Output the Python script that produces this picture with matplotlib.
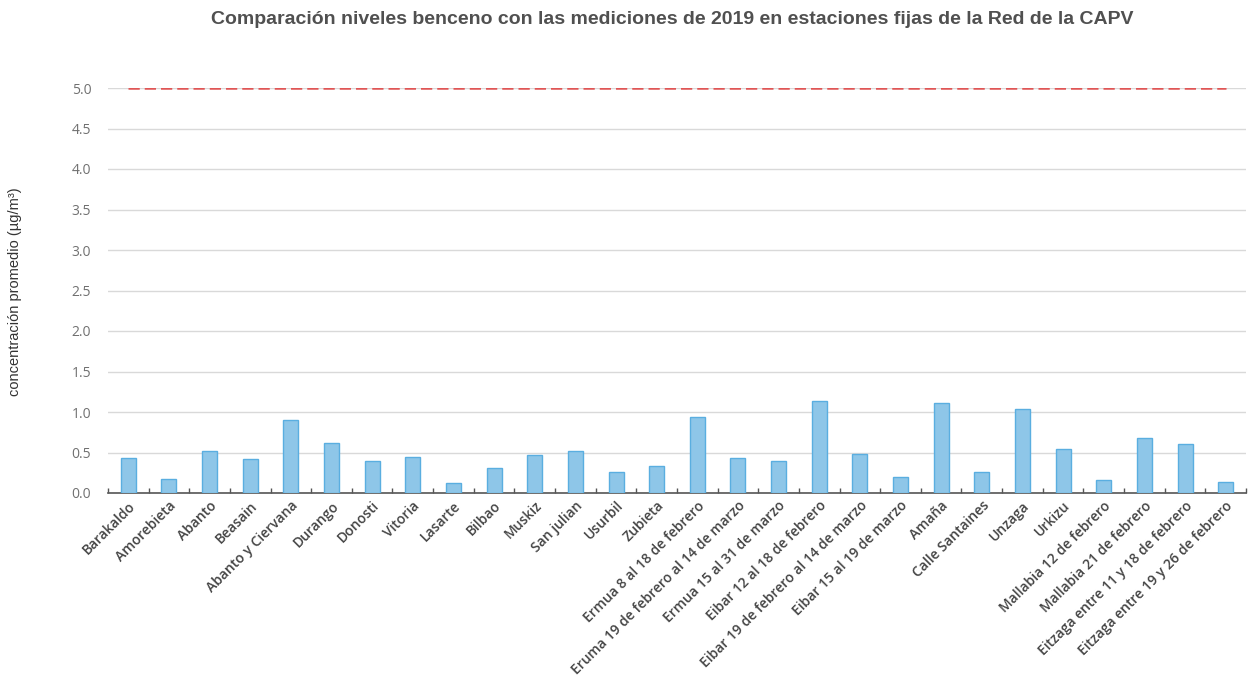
import matplotlib
matplotlib.use("Agg")
import matplotlib.pyplot as plt
import numpy as np

categories = ["Barakaldo", "Amorebieta", "Abanto", "Beasain", "Abanto y Ciervana",
              "Durango", "Donosti", "Vitoria", "Lasarte", "Bilbao", "Muskiz",
              "San julian", "Usurbil", "Zubieta", "Ermua 8 al 18 de febrero",
              "Eruma 19 de febrero al 14 de marzo", "Ermua 15 al 31 de marzo",
              "Eibar 12 al 18 de febrero", "Eibar 19 de febrero al 14 de marzo",
              "Eibar 15 al 19 de marzo", "Amaña", "Calle Santaines", "Unzaga",
              "Urkizu", "Mallabia 12 de febrero", "Mallabia 21 de febrero",
              "Eitzaga entre 11 y 18 de febrero", "Eitzaga entre 19 y 26 de febrero"]
values = [0.43, 0.17, 0.52, 0.42, 0.90, 0.62, 0.39, 0.45, 0.12, 0.31, 0.47,
          0.52, 0.26, 0.33, 0.94, 0.43, 0.39, 1.14, 0.48, 0.20, 1.11, 0.26,
          1.04, 0.54, 0.16, 0.68, 0.61, 0.13]
limit_value = 5.0
yticks = [0.0, 0.5, 1.0, 1.5, 2.0, 2.5, 3.0, 3.5, 4.0, 4.5, 5.0]

fig = plt.figure(figsize=(12.58, 6.85), dpi=100)
ax = fig.add_axes([108/1258, 1-493/685, (1246-108)/1258, (493-88)/685])

x = np.arange(len(categories))
ax.bar(x, values, width=0.37, color="#8ec6e8", edgecolor="#5aaee0", linewidth=1.0, zorder=3)
ax.plot(x, [limit_value]*len(x), color="#e05555", linestyle=(0, (4.5, 2)), linewidth=1.8, zorder=4)

ax.set_xlim(-0.5, len(categories)-0.5)
ax.set_ylim(0, 5.0)
ax.set_yticks(yticks)
ax.set_yticklabels([f"{v:.1f}" for v in yticks], color="#707070", fontsize=10, family="Open Sans")
ax.yaxis.grid(True, color="#d9d9d9", linewidth=1.0, zorder=0)
ax.set_axisbelow(True)
ax.tick_params(axis="y", length=0, pad=12)

ax.set_xticks(x)
ax.set_xticklabels(categories, rotation=45, ha="right", rotation_mode="anchor",
                   fontsize=10, color="#444444", family="Open Sans", fontweight="semibold")
ax.tick_params(axis="x", which="major", length=0, pad=4)
ax.set_xticks(np.arange(-0.5, len(categories)), minor=True)
ax.tick_params(axis="x", which="minor", direction="in", length=3.5, color="#555555", width=1)

for s in ["top", "right", "left"]:
    ax.spines[s].set_visible(False)
ax.spines["bottom"].set_color("#555555")
ax.spines["bottom"].set_linewidth(1.2)

fig.text(0.534, 1-19/685, "Comparación niveles benceno con las mediciones de 2019 en estaciones fijas de la Red de la CAPV",
         ha="center", va="center", fontsize=14, fontweight="bold", color="#505050", family="Liberation Sans")
fig.text(15/1258, 1-292/685, "concentración promedio (µg/m³)", rotation=90, ha="center", va="center",
         fontsize=10.5, color="#333333", family="Liberation Sans")

fig.savefig("out.png", dpi=100)
